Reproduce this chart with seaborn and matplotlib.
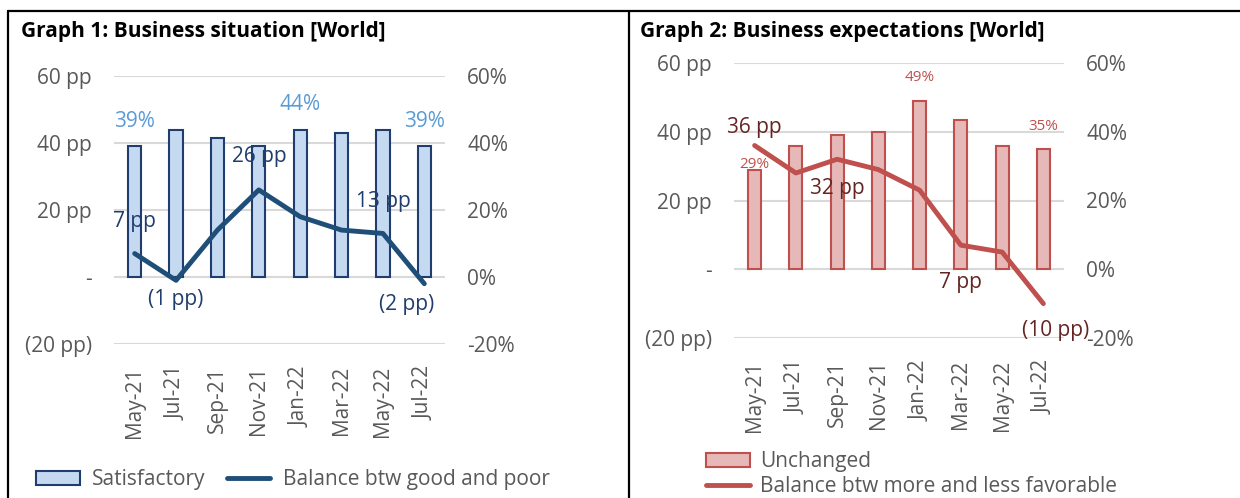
import pandas as pd
import numpy as np
import matplotlib.pyplot as plt
import seaborn as sns
from matplotlib.lines import Line2D
from matplotlib.ticker import FuncFormatter

months = ["May-21", "Jul-21", "Sep-21", "Nov-21", "Jan-22", "Mar-22", "May-22", "Jul-22"]

# graph 1 - business situation
satisfactory = [39, 44, 41.5, 39, 44, 43, 44, 39]
balance_good_poor = [7, -1, 14, 26, 18, 14, 13, -2]

# graph 2 - business expectations
unchanged = [29, 36, 39, 40, 49, 43.5, 36, 35]
balance_more_less = [36, 28, 32, 29, 23, 7, 5, -10]

sns.set_style("white")
plt.rcParams['font.family'] = ['Open Sans', 'DejaVu Sans']

grey = "#595959"
W, H = 1240, 498
fig = plt.figure(figsize=(12.4, 4.98), dpi=100)


def px(x, y):
    # pixel coords (from top-left) -> figure fraction
    return x / W, 1 - y / H


def pp_fmt(v, pos):
    if abs(v) < 1e-9:
        return "-"
    if v < 0:
        return f"({abs(v):.0f} pp)"
    return f"{v:.0f} pp"


def setup(ax, ax2):
    for a in (ax, ax2):
        a.set_ylim(-20, 60)
        a.set_yticks([-20, 0, 20, 40, 60])
        for s in a.spines.values():
            s.set_visible(False)
        a.tick_params(length=0, labelsize=15, labelcolor=grey, pad=16)
    ax.yaxis.set_major_formatter(FuncFormatter(pp_fmt))
    ax2.yaxis.set_major_formatter(FuncFormatter(lambda v, p: f"{v:.0f}%"))
    ax.grid(axis='y', color="#D9D9D9", linewidth=1.5)
    ax.set_axisbelow(True)
    ax.set_xlim(-0.5, len(months) - 0.5)
    ax.set_xlabel("")
    ax.set_ylabel("")
    ax2.set_ylabel("")
    ax.tick_params(axis='x', rotation=90, labelsize=15, pad=16)


def legend(ax, anchor, **kw):
    h, lb = ax.get_legend_handles_labels()
    ax.legend(h[::-1], lb[::-1], loc="upper left", bbox_to_anchor=px(*anchor),
              bbox_transform=fig.transFigure, frameon=False, fontsize=15,
              labelcolor=grey, handlelength=2.1, handleheight=0.65,
              borderaxespad=0, borderpad=0, **kw)


# ---------- Graph 1 ----------
l, b = px(114, 344)
ax1 = fig.add_axes([l, b, 331 / W, 268 / H])
df1 = pd.DataFrame({"month": months, "bar": satisfactory, "line": balance_good_poor})
sns.barplot(data=df1, x="month", y="bar", ax=ax1, color="#C5D9F1", edgecolor="#1F3D6E",
            linewidth=1.5, width=0.32, saturation=1, label="Satisfactory")
sns.lineplot(x=df1.index, y=df1["line"], ax=ax1, color="#1F4E79", linewidth=3.5,
             label="Balance btw good and poor")
ax1b = ax1.twinx()
setup(ax1, ax1b)

blue_lbl = "#5B9BD5"
for i in [0, 4, 7]:
    ax1.annotate(f"{satisfactory[i]:.0f}%", (i, satisfactory[i]), xytext=(0, 18),
                 textcoords="offset points", ha="center", va="center",
                 fontsize=15, color=blue_lbl)
navy = "#1F3D6E"
line_lbls1 = {0: (0, 23), 1: (0, -14), 3: (0, 24), 6: (0, 23), 7: (-13, -15)}
for i, off in line_lbls1.items():
    v = balance_good_poor[i]
    txt = f"({abs(v)} pp)" if v < 0 else f"{v} pp"
    ax1.annotate(txt, (i, v), xytext=off, textcoords="offset points",
                 ha="center", va="center", fontsize=15, color=navy)

legend(ax1, (36, 469), ncol=2, columnspacing=1.0, handletextpad=0.6)

# ---------- Graph 2 ----------
l, b = px(734, 338)
ax2 = fig.add_axes([l, b, 330 / W, 275 / H])
df2 = pd.DataFrame({"month": months, "bar": unchanged, "line": balance_more_less})
sns.barplot(data=df2, x="month", y="bar", ax=ax2, color="#E6B9B8", edgecolor="#C0504D",
            linewidth=1.5, width=0.32, saturation=1, label="Unchanged")
sns.lineplot(x=df2.index, y=df2["line"], ax=ax2, color="#C0504D", linewidth=3.5,
             label="Balance btw more and less favorable")
ax2b = ax2.twinx()
setup(ax2, ax2b)

red_lbl = "#C0504D"
bar_lbls2 = {0: (0, 4), 4: (0, 17), 7: (0, 16)}
for i, off in bar_lbls2.items():
    ax2.annotate(f"{unchanged[i]:.0f}%", (i, unchanged[i]), xytext=off,
                 textcoords="offset points", ha="center", va="center",
                 fontsize=11, color=red_lbl)
maroon = "#632523"
line_lbls2 = {0: (0, 13), 2: (0, -21), 5: (0, -27), 7: (9, -19)}
for i, off in line_lbls2.items():
    v = balance_more_less[i]
    txt = f"({abs(v)} pp)" if v < 0 else f"{v} pp"
    ax2.annotate(txt, (i, v), xytext=off, textcoords="offset points",
                 ha="center", va="center", fontsize=15, color=maroon)

legend(ax2, (706, 451), ncol=1, labelspacing=0.2, handletextpad=0.5)

# ---------- titles and frame ----------
fig.text(*px(21, 31), "Graph 1: Business situation [World]", fontsize=15,
         fontweight="bold", va="center", ha="left", color="black")
fig.text(*px(640, 31), "Graph 2: Business expectations [World]", fontsize=15,
         fontweight="bold", va="center", ha="left", color="black")

for xs, ys in [((8, W), (11, 11)), ((8, 8), (11, H)), ((629, 629), (11, H))]:
    x0, y0 = px(xs[0], ys[0])
    x1, y1 = px(xs[1], ys[1])
    fig.add_artist(Line2D([x0, x1], [y0, y1], color="black", linewidth=1.6))

fig.savefig("out.png", dpi=100)
